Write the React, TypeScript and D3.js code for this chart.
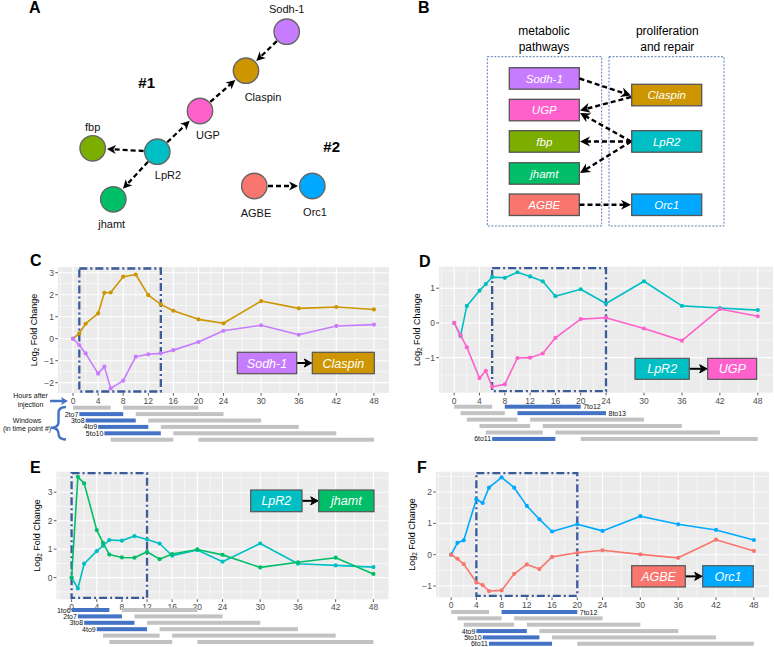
import React from 'react';
import * as d3 from 'd3';

// ---------- DATA ----------
const hours = [0, 1, 2, 4, 5, 6, 8, 10, 12, 14, 16, 20, 24, 30, 36, 42, 48];
const xBreaks = [0, 4, 8, 12, 16, 20, 24, 30, 36, 42, 48];
const claspin = [0, 0.24, 0.68, 1.15, 2.09, 2.1, 2.82, 2.92, 1.98, 1.56, 1.27, 0.88, 0.7, 1.71, 1.38, 1.44, 1.33];
const sodh1 = [0, -0.29, -0.67, -1.59, -1.27, -2.26, -1.91, -0.82, -0.71, -0.67, -0.52, -0.15, 0.36, 0.61, 0.18, 0.58, 0.64];
const lpr2 = [0, -0.38, 0.49, 0.93, 1.12, 1.32, 1.3, 1.46, 1.34, 1.2, 0.77, 0.97, 0.56, 1.2, 0.49, 0.43, 0.37];
const ugp = [0, -0.35, -0.7, -1.59, -1.38, -1.84, -1.77, -1.01, -1.0, -0.88, -0.43, 0.11, 0.15, -0.16, -0.51, 0.4, 0.19];
const jhamt = [0, 3.54, 3.31, 1.67, 1.22, 0.81, 0.71, 0.7, 0.91, 0.65, 0.83, 0.99, 0.8, 0.36, 0.54, 0.7, 0.13];
const orc1 = [0, 0.38, 0.46, 1.77, 1.65, 2.14, 2.47, 2.14, 1.56, 1.13, 0.74, 0.97, 0.76, 1.23, 0.97, 0.79, 0.47];
const agbe = [0, -0.13, -0.3, -0.88, -0.97, -1.16, -1.14, -0.61, -0.31, -0.46, -0.07, 0.06, 0.14, 0.01, -0.1, 0.48, 0.12];

const geneColors: Record<string, string> = {
  'Sodh-1': '#C77CFF', Claspin: '#CD9600', UGP: '#FF61CC', LpR2: '#00BFC4',
  fbp: '#7CAE00', jhamt: '#00BE67', AGBE: '#F8766D', Orc1: '#00A9FF',
};

const metabolicGenes = ['Sodh-1', 'UGP', 'fbp', 'jhamt', 'AGBE'];
const prolifGenes = ['Claspin', 'LpR2', 'Orc1'];

const FONT = '"Liberation Sans", Arial, Helvetica, sans-serif';
const BOXBLUE = '#3A5A98';
const WINBLUE = '#4472C4';
const WINGRAY = '#C2C2C2';

// ---------- PANEL CONFIG (layout) ----------
const panels = [
  {
    id: 'C', x0: 58, x1: 389, y0: 267, y1: 393, dom: [-2.47, 3.26], yBreaks: [-2, -1, 0, 1, 2, 3],
    series: [{ g: 'Claspin', v: claspin }, { g: 'Sodh-1', v: sodh1 }], box: [1, 14],
    winTop: 407.7, winStep: 6.4, hl: [[2, 'l'], [3, 'l'], [4, 'l'], [5, 'l']],
    legend: { a: 'Sodh-1', b: 'Claspin', x: 237.3, y: 352.3, w1: 59.4, x2: 312.3, w2: 62, h: 21.4 },
    lab: [30, 266], titleX: 37,
  },
  {
    id: 'D', x0: 439, x1: 773, y0: 266.7, y1: 392.7, dom: [-2.01, 1.62], yBreaks: [-1, 0, 1],
    series: [{ g: 'LpR2', v: lpr2 }, { g: 'UGP', v: ugp }], box: [6, 24],
    winTop: 406.7, winStep: 6.45, hl: [[6, 'l'], [7, 'r'], [8, 'r']],
    legend: { a: 'LpR2', b: 'UGP', x: 635, y: 358.3, w1: 54.3, x2: 707.7, w2: 49, h: 21 },
    lab: [419, 267], titleX: 419.5,
  },
  {
    id: 'E', x0: 56.5, x1: 388.5, y0: 471.7, y1: 599.3, dom: [-0.76, 3.72], yBreaks: [0, 1, 2, 3],
    series: [{ g: 'LpR2', v: lpr2 }, { g: 'jhamt', v: jhamt }], box: [0, 12],
    winTop: 610, winStep: 6.4, hl: [[1, 'l'], [2, 'l'], [3, 'l'], [4, 'l']],
    legend: { a: 'LpR2', b: 'jhamt', x: 250.7, y: 490, w1: 51.3, x2: 318.7, w2: 55.3, h: 21.7 },
    lab: [30, 473], titleX: 39.5,
  },
  {
    id: 'F', x0: 436, x1: 769, y0: 471.7, y1: 597.3, dom: [-1.36, 2.65], yBreaks: [-1, 0, 1, 2],
    series: [{ g: 'Orc1', v: orc1 }, { g: 'AGBE', v: agbe }], box: [4, 20],
    winTop: 612, winStep: 6.35, hl: [[4, 'l'], [5, 'l'], [6, 'l'], [7, 'r']],
    legend: { a: 'AGBE', b: 'Orc1', x: 631.7, y: 565.7, w1: 53.6, x2: 702.7, w2: 50.6, h: 21.3 },
    lab: [417, 473], titleX: 415,
  },
];

const fmt = (v: number) => (v < 0 ? '\u2212' + Math.abs(v) : String(v));

function ChartPanel({ p }: { p: any }) {
  const x = d3.scaleLinear().domain([-2.4, 50.4]).range([p.x0, p.x1]);
  const y = d3.scaleLinear().domain(p.dom).range([p.y1, p.y0]);
  const line = d3.line<number>().x((_, i) => x(hours[i])).y((d) => y(d));
  const xMinor = [-2, 2, 6, 10, 14, 18, 22, 27, 33, 39, 45];
  const yMinor: number[] = [];
  for (let v = Math.ceil(p.dom[0] * 2) / 2; v <= p.dom[1]; v += 0.5) {
    if (Math.abs(v - Math.round(v)) > 0.01) yMinor.push(v);
  }
  // windows rows
  const rows = d3.range(6).map((i) => [i + 1, i + 7]);
  const hlMap = new Map<number, string>(p.hl.map((h: any) => [h[0], h[1]]));
  const L = p.legend;
  const midY = L.y + L.h / 2;
  return (
    <g>
      <rect x={p.x0} y={p.y0} width={p.x1 - p.x0} height={p.y1 - p.y0} fill="#EBEBEB" />
      {xMinor.map((t) => (
        <line key={'xm' + t} x1={x(t)} x2={x(t)} y1={p.y0} y2={p.y1} stroke="#fff" strokeWidth={0.55} />
      ))}
      {yMinor.map((t) => (
        <line key={'ym' + t} x1={p.x0} x2={p.x1} y1={y(t)} y2={y(t)} stroke="#fff" strokeWidth={0.55} />
      ))}
      {xBreaks.map((t) => (
        <line key={'xM' + t} x1={x(t)} x2={x(t)} y1={p.y0} y2={p.y1} stroke="#fff" strokeWidth={1.1} />
      ))}
      {p.yBreaks.map((t: number) => (
        <line key={'yM' + t} x1={p.x0} x2={p.x1} y1={y(t)} y2={y(t)} stroke="#fff" strokeWidth={1.1} />
      ))}
      {/* ticks */}
      {xBreaks.map((t) => (
        <g key={'xt' + t}>
          <line x1={x(t)} x2={x(t)} y1={p.y1} y2={p.y1 + 2.7} stroke="#333" strokeWidth={0.8} />
          <text x={x(t)} y={p.y1 + 11} textAnchor="middle" fontSize={8.5} fill="#4D4D4D" fontFamily={FONT}>{t}</text>
        </g>
      ))}
      {p.yBreaks.map((t: number) => (
        <g key={'yt' + t}>
          <line x1={p.x0 - 2.7} x2={p.x0} y1={y(t)} y2={y(t)} stroke="#333" strokeWidth={0.8} />
          <text x={p.x0 - 4} y={y(t) + 3} textAnchor="end" fontSize={8.5} fill="#4D4D4D" fontFamily={FONT}>{fmt(t)}</text>
        </g>
      ))}
      {/* axis title */}
      <text transform={`translate(${p.titleX},${(p.y0 + p.y1) / 2}) rotate(-90)`} textAnchor="middle" fontSize={9} fill="#000" fontFamily={FONT}>
        Log<tspan fontSize={6.5} dy={2}>2</tspan><tspan dy={-2}> Fold Change</tspan>
      </text>
      {/* dashed window box */}
      <rect x={x(p.box[0])} y={p.y0 + 1.5} width={x(p.box[1]) - x(p.box[0])} height={p.y1 - p.y0 - 3}
        fill="none" stroke={BOXBLUE} strokeWidth={2.3} strokeDasharray="8 3 2 3" />
      {/* series */}
      {p.series.map((s: any) => (
        <g key={s.g}>
          <path d={line(s.v) || ''} fill="none" stroke={geneColors[s.g]} strokeWidth={1.6} strokeLinejoin="round" />
          {s.v.map((v: number, i: number) => (
            <circle key={i} cx={x(hours[i])} cy={y(v)} r={2.1} fill={geneColors[s.g]} />
          ))}
        </g>
      ))}
      {/* gene pair legend */}
      <rect x={L.x} y={L.y} width={L.w1} height={L.h} fill={geneColors[L.a]} stroke="#555" strokeWidth={1.2} />
      <text x={L.x + L.w1 / 2} y={midY + 4.5} textAnchor="middle" fontSize={12.5} fontStyle="italic" fill="#fff" fontFamily={FONT}>{L.a}</text>
      <rect x={L.x2} y={L.y} width={L.w2} height={L.h} fill={geneColors[L.b]} stroke="#555" strokeWidth={1.2} />
      <text x={L.x2 + L.w2 / 2} y={midY + 4.5} textAnchor="middle" fontSize={12.5} fontStyle="italic" fill="#fff" fontFamily={FONT}>{L.b}</text>
      <line x1={L.x + L.w1 + 0.5} x2={L.x2 - 6} y1={midY} y2={midY} stroke="#000" strokeWidth={2} />
      <path d={`M${L.x2 - 0.6},${midY} L${L.x2 - 8},${midY - 4} L${L.x2 - 6},${midY} L${L.x2 - 8},${midY + 4} Z`} fill="#000" stroke="#000" strokeWidth={1} strokeLinejoin="miter" />
      {/* windows */}
      {rows.map((r, ri) => {
        const cy = p.winTop + ri * p.winStep;
        return (
          <g key={'row' + ri}>
            {r.map((s) => {
              const e = s + 5;
              const side = hlMap.get(s);
              const xs = x(hours[s - 1]);
              const xe = x(hours[e - 1]);
              return (
                <g key={'w' + s}>
                  <rect x={xs} y={cy - 2} width={xe - xs} height={4} fill={side ? WINBLUE : WINGRAY} />
                  {side === 'l' && (
                    <text x={xs - 1} y={cy + 2.5} textAnchor="end" fontSize={7} fill="#111" fontFamily={FONT}>{`${s}to${e}`}</text>
                  )}
                  {side === 'r' && (
                    <text x={xe + 2.5} y={cy + 2.5} textAnchor="start" fontSize={7} fill="#111" fontFamily={FONT}>{`${s}to${e}`}</text>
                  )}
                </g>
              );
            })}
          </g>
        );
      })}
      {/* panel label */}
      <text x={p.lab[0]} y={p.lab[1]} fontSize={16} fontWeight="bold" fontFamily={FONT}>{p.id}</text>
    </g>
  );
}

// ---------- Panel A network ----------
const netNodes: Record<string, { x: number; y: number; lx: number; ly: number }> = {
  'Sodh-1': { x: 286.7, y: 31.7, lx: 286.7, ly: 13 },
  Claspin: { x: 246, y: 70.7, lx: 263, ly: 100.5 },
  UGP: { x: 200, y: 111, lx: 208, ly: 139 },
  LpR2: { x: 157.3, y: 151.7, lx: 168, ly: 179 },
  fbp: { x: 92.7, y: 148.3, lx: 92.7, ly: 131 },
  jhamt: { x: 113.3, y: 199.3, lx: 111.7, ly: 228 },
  AGBE: { x: 254.3, y: 186, lx: 256, ly: 217 },
  Orc1: { x: 312.3, y: 186, lx: 315, ly: 215.5 },
};
const netEdges = [['Sodh-1', 'Claspin'], ['UGP', 'Claspin'], ['LpR2', 'UGP'], ['LpR2', 'fbp'], ['LpR2', 'jhamt'], ['AGBE', 'Orc1']];
const NR = 12.7;

function PanelA() {
  return (
    <g>
      <text x={29} y={13} fontSize={16} fontWeight="bold" fontFamily={FONT}>A</text>
      <text x={146.7} y={88} textAnchor="middle" fontSize={15} fontWeight="bold" fontFamily={FONT}>#1</text>
      <text x={331.7} y={152} textAnchor="middle" fontSize={15} fontWeight="bold" fontFamily={FONT}>#2</text>
      {netEdges.map(([a, b]) => {
        const A = netNodes[a], B = netNodes[b];
        const dx = B.x - A.x, dy = B.y - A.y;
        const len = Math.hypot(dx, dy);
        const ux = dx / len, uy = dy / len;
        const sx = A.x + ux * (NR + 1), sy = A.y + uy * (NR + 1);
        const tx = B.x - ux * (NR + 1.5), ty = B.y - uy * (NR + 1.5);
        return (
          <g key={a + b}>
            <line x1={sx} y1={sy} x2={tx - ux * 5} y2={ty - uy * 5} stroke="#000" strokeWidth={2.3} strokeDasharray="5 3" />
            <path d={`M${tx},${ty} L${tx - ux * 9 + uy * 4.5},${ty - uy * 9 - ux * 4.5} L${tx - ux * 6.5},${ty - uy * 6.5} L${tx - ux * 9 - uy * 4.5},${ty - uy * 9 + ux * 4.5} Z`} fill="#000" />
          </g>
        );
      })}
      {Object.entries(netNodes).map(([g, n]) => (
        <g key={g}>
          <circle cx={n.x} cy={n.y} r={NR} fill={geneColors[g]} stroke="#666" strokeWidth={1.4} />
          <text x={n.lx} y={n.ly} textAnchor="middle" fontSize={11} fontFamily={FONT} fill="#111">{g}</text>
        </g>
      ))}
    </g>
  );
}

// ---------- Panel B ----------
const bLeft: Record<string, number> = { 'Sodh-1': 67.7, UGP: 99.3, fbp: 130.7, jhamt: 162.7, AGBE: 194 };
const bRight: Record<string, number> = { Claspin: 84.3, LpR2: 130.7, Orc1: 194 };
const bEdges = [
  [579.5, 78.5, 631, 95.5],
  [631, 97, 580, 110.5],
  [631, 141.5, 580, 113],
  [631, 141.5, 580, 141.5],
  [631, 141.5, 580, 173],
  [579.5, 204.7, 631, 204.7],
];

function PanelB() {
  const BH = 21.5;
  return (
    <g>
      <text x={418} y={13} fontSize={16} fontWeight="bold" fontFamily={FONT}>B</text>
      <text x={544} y={35} textAnchor="middle" fontSize={12} fontFamily={FONT}>metabolic</text>
      <text x={544} y={50.5} textAnchor="middle" fontSize={12} fontFamily={FONT}>pathways</text>
      <text x={667.3} y={35} textAnchor="middle" fontSize={12} fontFamily={FONT}>proliferation</text>
      <text x={667.3} y={50.5} textAnchor="middle" fontSize={12} fontFamily={FONT}>and repair</text>
      <rect x={487.3} y={56.7} width={114.4} height={169.3} fill="none" stroke="#4A6CA8" strokeWidth={0.9} strokeDasharray="2 1.5" />
      <rect x={609} y={56.7} width={115} height={169.3} fill="none" stroke="#4A6CA8" strokeWidth={0.9} strokeDasharray="2 1.5" />
      {metabolicGenes.map((g) => (
        <g key={g}>
          <rect x={509.3} y={bLeft[g]} width={70} height={BH} fill={geneColors[g]} stroke="#555" strokeWidth={1.3} />
          <text x={544.3} y={bLeft[g] + BH / 2 + 4.2} textAnchor="middle" fontSize={11.5} fontStyle="italic" fill="#fff" fontFamily={FONT}>{g}</text>
        </g>
      ))}
      {prolifGenes.map((g) => (
        <g key={g}>
          <rect x={631.7} y={bRight[g]} width={70} height={BH} fill={geneColors[g]} stroke="#555" strokeWidth={1.3} />
          <text x={666.7} y={bRight[g] + BH / 2 + 4.2} textAnchor="middle" fontSize={11.5} fontStyle="italic" fill="#fff" fontFamily={FONT}>{g}</text>
        </g>
      ))}
      {bEdges.map(([sx, sy, tx, ty], i) => {
        const dx = tx - sx, dy = ty - sy;
        const len = Math.hypot(dx, dy);
        const ux = dx / len, uy = dy / len;
        return (
          <g key={'be' + i}>
            <line x1={sx} y1={sy} x2={tx - ux * 6} y2={ty - uy * 6} stroke="#000" strokeWidth={2.4} strokeDasharray="5 3" />
            <path d={`M${tx},${ty} L${tx - ux * 10 + uy * 5},${ty - uy * 10 - ux * 5} L${tx - ux * 7},${ty - uy * 7} L${tx - ux * 10 - uy * 5},${ty - uy * 10 + ux * 5} Z`} fill="#000" />
          </g>
        );
      })}
    </g>
  );
}

function CExtras() {
  return (
    <g fontFamily={FONT}>
      <text x={30.5} y={398} textAnchor="middle" fontSize={7} fill="#111">Hours after</text>
      <text x={30.5} y={406.5} textAnchor="middle" fontSize={7} fill="#111">injection</text>
      <line x1={50} y1={401} x2={63} y2={401} stroke={WINBLUE} strokeWidth={2.5} />
      <path d="M68,401 L61,397 L62.5,401 L61,405 Z" fill={WINBLUE} />
      <text x={27} y={422.5} textAnchor="middle" fontSize={7} fill="#111">Windows</text>
      <text x={27} y={431} textAnchor="middle" fontSize={7} fill="#111">(in time point #)</text>
      <path d="M66,407 Q58.5,407 58.5,413 L58.5,422 Q58.5,427.7 51,427.7 Q58.5,427.7 58.5,433.5 L58.5,433.5 Q58.5,439.5 66,439.5"
        fill="none" stroke={WINBLUE} strokeWidth={2.4} />
    </g>
  );
}

export default function App() {
  return (
    <svg width={774} height={647} viewBox="0 0 774 647" style={{ display: 'block', position: 'absolute', left: 0, top: 0, background: '#fff' }}>
      <rect width={774} height={647} fill="#fff" />
      <PanelA />
      <PanelB />
      {panels.map((p) => (
        <ChartPanel key={p.id} p={p} />
      ))}
      <CExtras />
    </svg>
  );
}
